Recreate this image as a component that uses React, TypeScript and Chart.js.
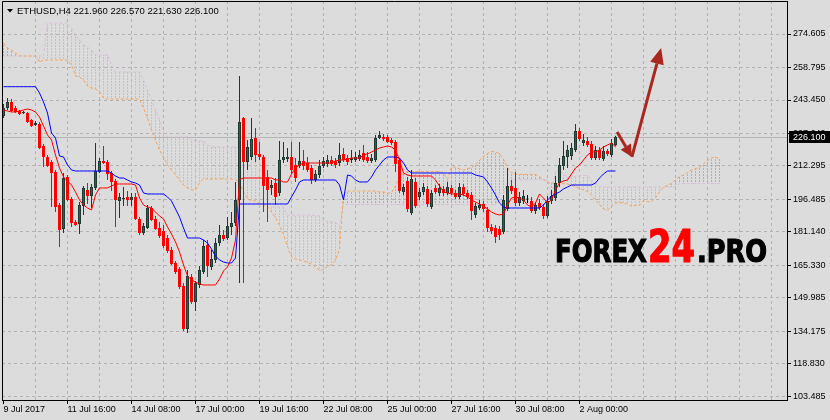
import React, { useEffect, useRef } from 'react';
import { Chart, registerables } from 'chart.js';

Chart.register(...registerables);

// ---------------- data ----------------
const symbolTitle = 'ETHUSD,H4';
const lastBarOHLC = [221.96, 226.57, 221.63, 226.1];
const currentPrice = 226.1;

const xLabels = ['9 Jul 2017', '11 Jul 16:00', '14 Jul 08:00', '17 Jul 00:00', '19 Jul 16:00',
  '22 Jul 08:00', '25 Jul 00:00', '27 Jul 16:00', '30 Jul 08:00', '2 Aug 00:00'];
const yTicks = [274.605, 258.795, 243.45, 227.64, 212.295, 196.485, 181.14, 165.33, 149.985, 134.175, 118.83, 103.485];

const opens = [
  235.90, 239.67, 242.51, 239.67, 238.26, 237.31, 237.31, 234.01, 231.65, 232.12,
  221.74, 216.55, 214.19, 209.47, 193.89, 182.56, 207.11, 196.72, 185.87, 184.92,
  193.42, 200.97, 198.14, 201.91, 209.47, 214.66, 214.19, 208.99, 205.22, 195.78,
  196.72, 197.67, 196.25, 197.67, 187.28, 180.67, 183.03, 192.47, 187.28, 183.03,
  181.62, 178.31, 172.65, 166.52, 163.68, 155.66, 135.36, 159.91, 148.11, 156.13,
  162.27, 175.01, 164.63, 167.93, 175.95, 179.73, 178.31, 183.51, 185.39, 196.25,
  234.95, 214.19, 216.55, 225.51, 217.96, 216.55, 207.11, 201.91, 204.27, 199.55,
  215.13, 215.60, 216.55, 212.77, 212.30, 214.66, 213.71, 211.35, 205.69, 208.05,
  212.30, 213.24, 215.13, 214.66, 213.71, 217.96, 216.07, 215.13, 215.13, 215.60,
  218.43, 216.55, 214.66, 215.13, 225.51, 225.99, 225.99, 224.57, 223.63, 215.13,
  200.03, 205.22, 190.11, 204.75, 197.67, 200.03, 201.44, 192.95, 201.91, 199.55,
  201.44, 199.55, 201.91, 199.55, 197.67, 202.39, 199.55, 198.61, 189.17, 192.47,
  194.36, 191.53, 183.51, 183.03, 182.56, 181.15, 192.00, 202.86, 201.91, 194.83,
  195.78, 196.50, 195.78, 191.06, 194.83, 192.95, 188.70, 195.78, 197.19, 204.27,
  212.30, 216.55, 217.02, 219.85, 228.82, 223.15, 224.10, 222.68, 216.07, 219.85,
  215.60, 219.38, 217.49, 221.96,
];
const highs = [
  241.56, 244.39, 243.92, 240.62, 238.73, 238.26, 237.79, 234.48, 233.54, 233.07,
  222.68, 217.49, 215.13, 210.41, 194.83, 208.99, 208.05, 197.67, 186.81, 195.31,
  202.86, 204.27, 203.80, 223.15, 216.07, 221.74, 215.13, 209.94, 206.16, 199.55,
  202.39, 200.50, 199.55, 199.55, 188.23, 185.39, 193.89, 193.42, 188.70, 185.87,
  184.45, 179.73, 174.07, 167.46, 164.63, 157.07, 163.21, 161.32, 158.02, 165.10,
  177.37, 177.37, 172.65, 178.31, 184.45, 182.09, 188.23, 190.59, 204.75, 254.78,
  235.43, 224.57, 234.95, 230.23, 223.63, 217.49, 210.41, 205.69, 206.63, 224.10,
  223.63, 220.79, 223.63, 216.07, 223.63, 219.85, 216.55, 212.77, 210.41, 215.13,
  216.55, 217.49, 217.02, 216.07, 223.15, 220.79, 217.49, 219.85, 218.91, 219.85,
  222.21, 218.91, 217.96, 226.93, 228.82, 227.40, 226.93, 225.51, 224.57, 216.07,
  203.80, 207.11, 210.41, 206.63, 201.91, 204.27, 202.86, 200.97, 203.33, 203.80,
  202.86, 204.75, 203.33, 200.97, 204.27, 203.80, 200.97, 200.03, 194.83, 196.25,
  195.78, 192.95, 184.92, 184.45, 183.98, 198.61, 211.35, 205.69, 209.47, 200.03,
  200.97, 198.61, 197.67, 195.31, 196.72, 194.36, 198.14, 200.97, 207.58, 216.07,
  224.10, 222.21, 223.15, 232.12, 230.23, 227.40, 225.99, 224.10, 221.74, 221.27,
  221.74, 220.32, 225.04, 226.57,
];
const lows = [
  234.95, 238.73, 237.79, 237.31, 236.37, 236.84, 232.59, 230.71, 231.18, 220.32,
  211.83, 211.83, 192.95, 190.59, 174.07, 180.67, 195.78, 183.51, 183.98, 180.20,
  189.17, 194.36, 192.47, 200.97, 208.99, 213.24, 205.69, 200.50, 183.51, 187.75,
  193.42, 193.42, 193.42, 186.81, 179.73, 179.73, 182.56, 186.34, 182.09, 178.31,
  173.59, 171.23, 165.57, 161.32, 154.24, 134.42, 133.47, 147.16, 143.86, 154.71,
  161.32, 159.91, 163.21, 166.52, 174.54, 176.90, 177.37, 179.73, 183.98, 157.07,
  157.07, 210.41, 215.13, 214.19, 215.13, 190.59, 185.87, 198.61, 193.89, 198.14,
  213.71, 214.19, 208.52, 204.75, 211.35, 210.41, 209.47, 203.80, 204.75, 206.63,
  211.35, 211.83, 212.30, 211.35, 212.30, 214.19, 212.77, 213.71, 214.19, 214.66,
  214.19, 213.71, 213.71, 214.19, 225.04, 224.10, 223.15, 222.21, 209.47, 199.55,
  198.61, 190.59, 189.17, 192.47, 196.25, 198.61, 192.95, 192.00, 199.08, 198.14,
  198.14, 198.61, 198.61, 196.72, 196.72, 198.14, 196.72, 186.81, 187.75, 191.53,
  190.59, 181.15, 180.20, 175.95, 177.37, 180.20, 191.06, 199.08, 193.42, 193.42,
  194.36, 194.83, 190.11, 189.64, 191.53, 187.28, 187.75, 194.36, 195.78, 202.39,
  210.41, 211.35, 215.13, 218.91, 224.10, 221.74, 221.27, 215.13, 215.13, 215.13,
  214.66, 217.02, 216.55, 221.63,
];
const closes = [
  239.67, 242.51, 238.26, 237.79, 236.84, 237.79, 233.07, 231.18, 232.59, 220.79,
  216.55, 212.30, 208.99, 192.95, 182.09, 206.63, 196.25, 185.39, 184.45, 193.89,
  201.91, 198.14, 202.39, 209.94, 214.66, 213.71, 208.52, 204.75, 196.25, 197.67,
  197.19, 196.25, 197.67, 187.28, 180.67, 183.98, 192.47, 186.81, 182.56, 179.26,
  174.54, 172.18, 166.04, 162.27, 155.19, 135.36, 160.38, 148.11, 157.07, 163.21,
  174.54, 165.10, 168.40, 175.95, 179.73, 177.84, 183.98, 185.39, 196.25, 233.07,
  214.19, 221.27, 225.04, 217.49, 216.55, 202.86, 200.97, 203.33, 197.67, 215.13,
  216.55, 216.55, 210.41, 206.63, 214.66, 212.30, 210.41, 205.69, 208.52, 212.30,
  214.66, 215.13, 213.24, 212.77, 217.49, 215.13, 214.19, 216.07, 216.55, 217.49,
  215.13, 214.66, 216.07, 225.51, 226.93, 225.04, 223.63, 223.15, 213.24, 200.50,
  202.39, 192.00, 206.16, 193.42, 200.03, 202.39, 194.36, 199.55, 200.03, 201.91,
  199.55, 202.39, 199.55, 197.67, 202.39, 199.08, 197.67, 191.06, 193.42, 193.89,
  192.00, 183.03, 181.62, 178.79, 179.73, 196.25, 202.86, 200.50, 194.83, 197.67,
  198.14, 196.50, 191.06, 193.89, 192.47, 188.70, 195.78, 198.14, 204.27, 212.77,
  217.02, 219.85, 220.79, 228.82, 225.04, 224.57, 222.21, 216.07, 219.85, 216.07,
  219.38, 217.96, 223.15, 226.10,
];

// Ichimoku: Tenkan-sen (red), Kijun-sen (blue)
const tenkan = [
  238.73, 238.26, 237.79, 237.79, 238.26, 238.73, 239.20, 238.73, 237.79, 235.43,
  231.18, 226.93, 224.57, 217.49, 211.35, 207.11, 205.22, 203.33, 200.03, 196.25,
  193.89, 192.47, 191.53, 198.61, 201.91, 201.91, 201.91, 202.86, 203.80, 203.80,
  203.80, 203.80, 203.80, 203.33, 197.19, 193.89, 192.95, 192.47, 190.59, 188.70,
  187.28, 183.51, 180.20, 176.43, 171.71, 165.57, 160.38, 158.49, 157.55, 156.60,
  156.13, 156.13, 156.13, 156.13, 158.96, 162.74, 164.63, 168.87, 177.37, 205.90,
  206.63, 206.63, 206.63, 206.63, 206.63, 206.63, 206.63, 206.63, 205.69, 205.69,
  204.75, 204.75, 208.52, 211.35, 212.77, 213.71, 213.71, 213.71, 213.71, 213.71,
  213.71, 213.71, 213.71, 214.66, 215.13, 215.13, 215.60, 216.07, 216.07, 216.07,
  217.49, 217.96, 218.91, 219.85, 220.79, 221.27, 221.74, 221.27, 219.85, 215.13,
  208.99, 208.05, 207.58, 207.58, 207.58, 207.58, 207.58, 207.58, 205.69, 202.86,
  200.03, 199.55, 199.08, 199.08, 199.08, 198.61, 197.67, 196.25, 195.31, 194.36,
  193.42, 192.00, 190.59, 189.64, 189.17, 189.64, 193.89, 197.19, 197.67, 197.19,
  196.25, 193.89, 192.95, 194.83, 199.08, 197.19, 194.83, 196.25, 200.97, 204.27,
  205.22, 205.69, 208.52, 211.35, 212.77, 215.13, 217.49, 218.91, 218.91, 219.85,
  221.27, 222.21, 223.15, 221.27,
];
const kijun = [
  249.73, 249.73, 249.73, 249.73, 249.73, 249.73, 249.73, 249.73, 249.73, 246.75,
  242.51, 237.31, 227.87, 225.51, 217.02, 216.55, 212.77, 210.41, 209.94, 209.94,
  209.94, 209.94, 209.94, 209.94, 209.94, 209.94, 209.94, 208.99, 207.58, 206.63,
  206.63, 205.69, 204.75, 204.27, 203.33, 199.55, 199.08, 199.08, 199.08, 199.08,
  199.08, 197.67, 195.78, 192.00, 188.23, 183.03, 178.31, 178.31, 178.31, 178.31,
  177.37, 175.95, 173.12, 169.82, 167.93, 166.99, 166.52, 166.52, 168.87, 194.36,
  194.36, 194.36, 194.36, 194.36, 194.36, 194.36, 194.36, 194.36, 194.36, 194.36,
  194.36, 194.36, 197.67, 200.97, 204.75, 205.69, 205.69, 205.69, 205.69, 205.69,
  205.69, 205.69, 205.69, 205.69, 203.33, 196.25, 208.05, 207.58, 205.69, 204.75,
  204.75, 204.75, 207.11, 210.41, 212.77, 215.13, 216.55, 216.55, 216.55, 216.07,
  213.71, 210.41, 208.99, 208.99, 208.99, 208.99, 208.99, 208.99, 208.99, 208.99,
  208.99, 208.99, 208.99, 208.99, 208.99, 208.99, 208.99, 208.99, 208.05, 207.58,
  207.11, 204.75, 201.91, 198.61, 194.83, 192.95, 192.47, 192.47, 192.47, 192.47,
  192.47, 192.47, 192.47, 192.47, 192.47, 193.89, 196.25, 198.14, 199.08, 200.03,
  201.44, 202.39, 203.33, 203.33, 203.33, 203.33, 203.33, 203.33, 204.27, 206.63,
  208.52, 209.94, 209.94, 209.94,
];
// Senkou Span A (sandy brown) and Span B (thistle), already shifted 26 bars ahead
const spanA = [
  270.35, 267.99, 267.05, 265.63, 264.22, 264.22, 264.22, 264.22, 264.22, 261.39,
  262.33, 262.33, 262.33, 262.33, 262.33, 262.33, 262.33, 259.97, 254.78, 254.31,
  252.89, 250.06, 249.11, 248.64, 247.23, 244.39, 243.92, 243.92, 243.92, 243.92,
  243.92, 243.92, 243.92, 243.92, 243.92, 239.67, 234.95, 229.29, 224.57, 219.85,
  216.55, 212.77, 210.41, 208.05, 205.69, 203.33, 201.91, 200.97, 200.97, 204.27,
  206.16, 206.16, 206.16, 206.16, 206.16, 206.16, 206.16, 206.16, 205.69, 204.75,
  200.0, 196.7, 196.0, 195.8, 194.8, 193.9, 193.2, 190.6, 188.0, 184.2,
  180.0, 174.3, 169.3, 168.4, 167.9, 167.5, 166.8, 166.0, 164.6, 163.0,
  163.4, 164.9, 165.6, 167.7, 173.1, 199.0, 200.5, 200.5, 200.5, 200.5,
  200.5, 200.5, 200.5, 200.5, 200.0, 200.0, 199.6, 199.6, 203.1, 206.2,
  208.8, 209.7, 209.7, 209.7, 209.7, 209.7, 209.7, 209.7, 209.7, 209.7,
  209.2, 206.0, 211.8, 211.8, 210.9, 210.4, 211.1, 211.4, 213.0, 215.1,
  216.8, 218.2, 219.1, 218.9, 218.2, 215.6, 211.4, 209.2, 208.3, 208.3,
  208.3, 208.3, 208.3, 208.3, 207.3, 205.9, 204.5, 204.3, 204.0, 204.0,
  204.0, 203.8, 203.3, 202.6, 201.7, 201.0, 200.3, 198.4, 196.3, 194.1,
  192.0, 191.3, 193.2, 194.8, 195.1, 194.8, 194.4, 193.2, 193.7, 193.7,
  195.8, 195.5, 195.5, 197.2, 200.0, 202.2, 203.3, 204.0, 205.9, 207.3,
  208.1, 209.2, 210.4, 211.1, 211.6, 213.2, 214.9, 216.1, 216.5, 215.6,
];
const spanB = [
  264.22, 264.22, 264.22, 264.22, 264.22, 264.22, 264.22, 264.22, 264.22, 264.22,
  264.22, 279.79, 279.79, 279.79, 279.79, 279.79, 279.79, 277.43, 274.13, 271.77,
  269.41, 268.47, 267.05, 264.69, 264.69, 264.69, 264.69, 259.97, 256.67, 256.67,
  256.67, 256.67, 256.67, 256.67, 256.67, 252.89, 248.17, 243.45, 238.73, 234.01,
  228.35, 225.99, 225.99, 225.99, 225.99, 225.99, 225.99, 224.57, 224.10, 224.10,
  224.10, 222.21, 221.27, 221.27, 221.27, 221.27, 221.27, 221.27, 221.27, 221.27,
  217.49, 217.49, 217.49, 217.49, 217.49, 217.49, 196.25, 192.95, 192.95, 192.95,
  192.95, 189.17, 189.17, 189.17, 189.17, 189.17, 189.17, 189.17, 188.9, 188.7,
  187.0, 186.1, 185.9, 185.6, 184.0, 194.1, 194.1, 194.1, 194.1, 194.1,
  194.1, 194.1, 194.1, 194.1, 194.1, 194.1, 194.1, 194.1, 194.1, 194.1,
  194.1, 194.1, 194.1, 194.1, 194.1, 194.1, 194.1, 194.1, 194.1, 194.1,
  194.1, 194.1, 194.1, 194.1, 194.1, 194.1, 194.1, 194.1, 194.1, 194.1,
  194.1, 194.1, 194.1, 194.1, 199.3, 199.3, 204.7, 205.9, 205.9, 205.9,
  205.9, 205.9, 205.9, 205.9, 205.9, 205.9, 205.9, 196.25, 210.4, 210.4,
  208.05, 207.3, 207.3, 207.3, 207.8, 207.8, 207.8, 205.0, 204.5, 202.4,
  202.4, 202.4, 202.4, 202.4, 202.4, 202.4, 202.4, 202.4, 202.4, 202.4,
  202.4, 202.4, 202.4, 202.4, 202.4, 202.4, 202.4, 202.4, 202.4, 204.0,
  204.0, 204.0, 204.0, 204.0, 204.0, 204.0, 204.0, 204.0, 204.0, 204.0,
];

// annotation arrows in (bar index, price)
const arrows = [
  { from: [153.4, 228.35], to: [157.1, 216.55], head: 12, half: 6 },
  { from: [157.1, 216.55], to: [164.4, 268.0], head: 16, half: 7 },
];

// ---------------- style ----------------
const FONT = '"Liberation Sans", Arial, sans-serif';
const BG = '#dcdcdc';
const GRID = '#b2b2b2';
const BULL_FILL = '#2f5f4f';
const BULL_EDGE = '#1f3a33';
const BEAR = '#ff0000';
const SANDY = '#f4a460';
const THISTLE = '#d8bfd8';
const HATCH_UP = '#f2a05c';
const HATCH_DOWN = '#d8b2d8';
const ARROW = '#a8281f';
const BARS_PER_GRID = 8;
const BARS_PER_LABEL = 16;
const X_MIN = -0.375;
const X_MAX = 195.875;
const Y_MIN = 101.835;
const Y_MAX = 290.183;

function makeHatch(ctx: CanvasRenderingContext2D, color: string) {
  const c = document.createElement('canvas');
  c.width = 1;
  c.height = 3;
  const g = c.getContext('2d')!;
  g.fillStyle = color;
  g.fillRect(0, 0, 1, 2);
  return ctx.createPattern(c, 'repeat');
}

function fitText(ctx: CanvasRenderingContext2D, text: string, x0: number, x1: number, base: number, size: number, color: string) {
  ctx.save();
  ctx.font = `bold ${size}px "DejaVu Sans", "Liberation Sans", sans-serif`;
  const w = ctx.measureText(text).width;
  ctx.translate(x0, base);
  ctx.scale((x1 - x0) / w, 1);
  ctx.fillStyle = color;
  ctx.strokeStyle = color;
  ctx.lineWidth = 1.2;
  ctx.textBaseline = 'alphabetic';
  ctx.textAlign = 'left';
  ctx.fillText(text, 0, 0);
  ctx.strokeText(text, 0, 0);
  ctx.restore();
}

const mt4Plugin = {
  id: 'mt4look',
  beforeDraw(chart: any) {
    const { ctx, width, height } = chart;
    ctx.save();
    ctx.fillStyle = BG;
    ctx.fillRect(0, 0, width, height);
    ctx.restore();
  },
  beforeDatasetsDraw(chart: any) {
    const { ctx, chartArea, scales } = chart;
    const py = Math.round(scales.y.getPixelForValue(currentPrice)) + 0.5;
    ctx.save();
    ctx.strokeStyle = '#b4b4b4';
    ctx.lineWidth = 1;
    ctx.beginPath();
    ctx.moveTo(chartArea.left, py);
    ctx.lineTo(chartArea.right, py);
    ctx.stroke();
    ctx.restore();
  },
  afterDatasetsDraw(chart: any) {
    const { ctx, chartArea, scales } = chart;
    // watermark
    fitText(ctx, 'FOREX', 555, 647, 262, 31.5, '#000000');
    fitText(ctx, '24', 648, 695, 262, 45, '#ff0000');
    fitText(ctx, '.PRO', 697, 767, 262, 31.5, '#000000');
    // arrows
    ctx.save();
    for (const a of arrows) {
      const x1 = scales.x.getPixelForValue(a.from[0]);
      const y1 = scales.y.getPixelForValue(a.from[1]);
      const x2 = scales.x.getPixelForValue(a.to[0]);
      const y2 = scales.y.getPixelForValue(a.to[1]);
      const ang = Math.atan2(y2 - y1, x2 - x1);
      const bx = x2 - a.head * Math.cos(ang);
      const by = y2 - a.head * Math.sin(ang);
      ctx.strokeStyle = ARROW;
      ctx.fillStyle = ARROW;
      ctx.lineWidth = 3;
      ctx.beginPath();
      ctx.moveTo(x1, y1);
      ctx.lineTo(bx, by);
      ctx.stroke();
      ctx.beginPath();
      ctx.moveTo(x2, y2);
      ctx.lineTo(bx + a.half * Math.sin(ang), by - a.half * Math.cos(ang));
      ctx.lineTo(bx - a.half * Math.sin(ang), by + a.half * Math.cos(ang));
      ctx.closePath();
      ctx.fill();
    }
    // frame
    ctx.strokeStyle = '#000';
    ctx.lineWidth = 1;
    ctx.beginPath();
    ctx.moveTo(chartArea.left + 0.5, chartArea.bottom);
    ctx.lineTo(chartArea.left + 0.5, chartArea.top + 0.5);
    ctx.lineTo(chartArea.right, chartArea.top + 0.5);
    ctx.stroke();
    ctx.restore();
  },
  afterDraw(chart: any) {
    const { ctx, scales } = chart;
    const py = Math.round(scales.y.getPixelForValue(currentPrice));
    ctx.save();
    ctx.fillStyle = '#000';
    ctx.fillRect(789, py - 6, 41, 12);
    ctx.fillStyle = '#fff';
    ctx.font = `9px ${FONT}`;
    ctx.textBaseline = 'middle';
    ctx.textAlign = 'left';
    ctx.fillText(currentPrice.toFixed(3), 793, py + 0.5);
    // title
    ctx.fillStyle = '#000';
    ctx.beginPath();
    ctx.moveTo(7, 9);
    ctx.lineTo(13, 9);
    ctx.lineTo(10, 12.5);
    ctx.closePath();
    ctx.fill();
    ctx.font = `9.5px ${FONT}`;
    ctx.textBaseline = 'alphabetic';
    ctx.fillText(`${symbolTitle} ${lastBarOHLC.map((v) => v.toFixed(3)).join(' ')}`, 17, 14);
    ctx.restore();
  },
};

export default function App() {
  const ref = useRef<HTMLCanvasElement | null>(null);

  useEffect(() => {
    const canvas = ref.current;
    if (!canvas) return;
    const ctx = canvas.getContext('2d')!;
    const hatchUp = makeHatch(ctx, HATCH_UP);
    const hatchDown = makeHatch(ctx, HATCH_DOWN);

    const idx = opens.map((_, i) => i);
    const wicks = idx.map((i) => ({ x: i, y: [lows[i], highs[i]] }));
    const bodies = idx.map((i) => ({ x: i, y: [opens[i], closes[i]] }));
    const dir = idx.map((i) => (closes[i] > opens[i] ? 1 : closes[i] < opens[i] ? -1 : 0));
    const bodyFill = dir.map((d) => (d > 0 ? BULL_FILL : d < 0 ? BEAR : '#000'));
    const bodyEdge = dir.map((d) => (d > 0 ? BULL_EDGE : d < 0 ? BEAR : '#000'));
    const wickColor = dir.map((d) => (d > 0 ? BULL_EDGE : d < 0 ? BEAR : '#000'));
    const cloud = spanA.map((a, i) => ({ x: i, y: [a, spanB[i]] }));
    const cloudColor = spanA.map((a, i) => (a >= spanB[i] ? hatchUp : hatchDown));

    const lineDs = (vals: number[], color: string, order: number, dash: number[] = []) => ({
      type: 'line',
      data: vals.map((v, i) => ({ x: i, y: v })),
      borderColor: color,
      borderWidth: 1,
      borderDash: dash,
      pointRadius: 0,
      tension: 0,
      fill: false,
      order,
    });

    const chart = new Chart(canvas, {
      type: 'bar',
      data: {
        datasets: [
          lineDs(tenkan, '#ff0000', 0),
          lineDs(kijun, '#0000ff', 0),
          {
            type: 'bar', data: bodies, barThickness: 3, backgroundColor: bodyFill, borderColor: bodyEdge,
            borderWidth: 1, borderSkipped: false, minBarLength: 1, grouped: false, inflateAmount: 0, order: 1,
          },
          {
            type: 'bar', data: wicks, barThickness: 1, backgroundColor: wickColor, borderWidth: 0,
            grouped: false, inflateAmount: 0, order: 2,
          },
          lineDs(spanA, SANDY, 3, [3, 2]),
          lineDs(spanB, THISTLE, 3, [3, 2]),
          {
            type: 'bar', data: cloud, barThickness: 1, backgroundColor: cloudColor, borderWidth: 0,
            grouped: false, inflateAmount: 0, order: 4,
          },
        ] as any,
      },
      options: {
        animation: false,
        responsive: false,
        events: [],
        layout: { padding: { left: 2, top: 1, right: 0, bottom: 0 } },
        plugins: { legend: { display: false }, tooltip: { enabled: false } },
        scales: {
          x: {
            type: 'linear',
            min: X_MIN,
            max: X_MAX,
            offset: false,
            grid: {
              offset: false,
              color: (c: any) => (c.tick && c.tick.value === 0 ? 'rgba(0,0,0,0)' : GRID),
              lineWidth: 1,
              tickLength: 4,
              tickColor: (c: any) => (c.tick && c.tick.value % BARS_PER_LABEL === 0 && c.tick.value / BARS_PER_LABEL < xLabels.length ? '#000' : 'rgba(0,0,0,0)'),
              tickBorderDash: [],
            },
            border: { display: true, color: '#000', width: 1, dash: [3, 3] },
            ticks: {
              autoSkip: false,
              maxRotation: 0,
              minRotation: 0,
              align: 'start',
              padding: 0,
              color: '#000',
              font: { family: FONT, size: 9 },
              callback: (v: any) => {
                const k = Number(v) / BARS_PER_LABEL;
                return Number.isInteger(k) && k < xLabels.length ? xLabels[k] : '';
              },
            },
            afterBuildTicks: (s: any) => {
              const t = [];
              for (let v = 0; v <= X_MAX; v += BARS_PER_GRID) t.push({ value: v });
              s.ticks = t;
            },
            afterFit: (s: any) => {
              s.height = 20;
              s.paddingLeft = 0;
              s.paddingRight = 0;
            },
          },
          y: {
            type: 'linear',
            position: 'right',
            min: Y_MIN,
            max: Y_MAX,
            grid: { color: GRID, lineWidth: 1, tickLength: 4, tickColor: '#000', tickBorderDash: [] },
            border: { display: true, color: '#000', width: 1, dash: [3, 3] },
            ticks: {
              autoSkip: false,
              padding: 2,
              color: '#000',
              font: { family: FONT, size: 9 },
              callback: (v: any) => Number(v).toFixed(3),
            },
            afterBuildTicks: (s: any) => {
              s.ticks = yTicks.map((v) => ({ value: v }));
            },
            afterFit: (s: any) => {
              s.width = 43;
              s.paddingTop = 0;
              s.paddingBottom = 0;
            },
          },
        },
      } as any,
      plugins: [mt4Plugin],
    });
    return () => chart.destroy();
  }, []);

  return (
    <div style={{ position: 'absolute', left: 0, top: 0, width: 830, height: 420 }}>
      <canvas ref={ref} width={830} height={420} style={{ width: 830, height: 420, display: 'block' }} />
    </div>
  );
}
